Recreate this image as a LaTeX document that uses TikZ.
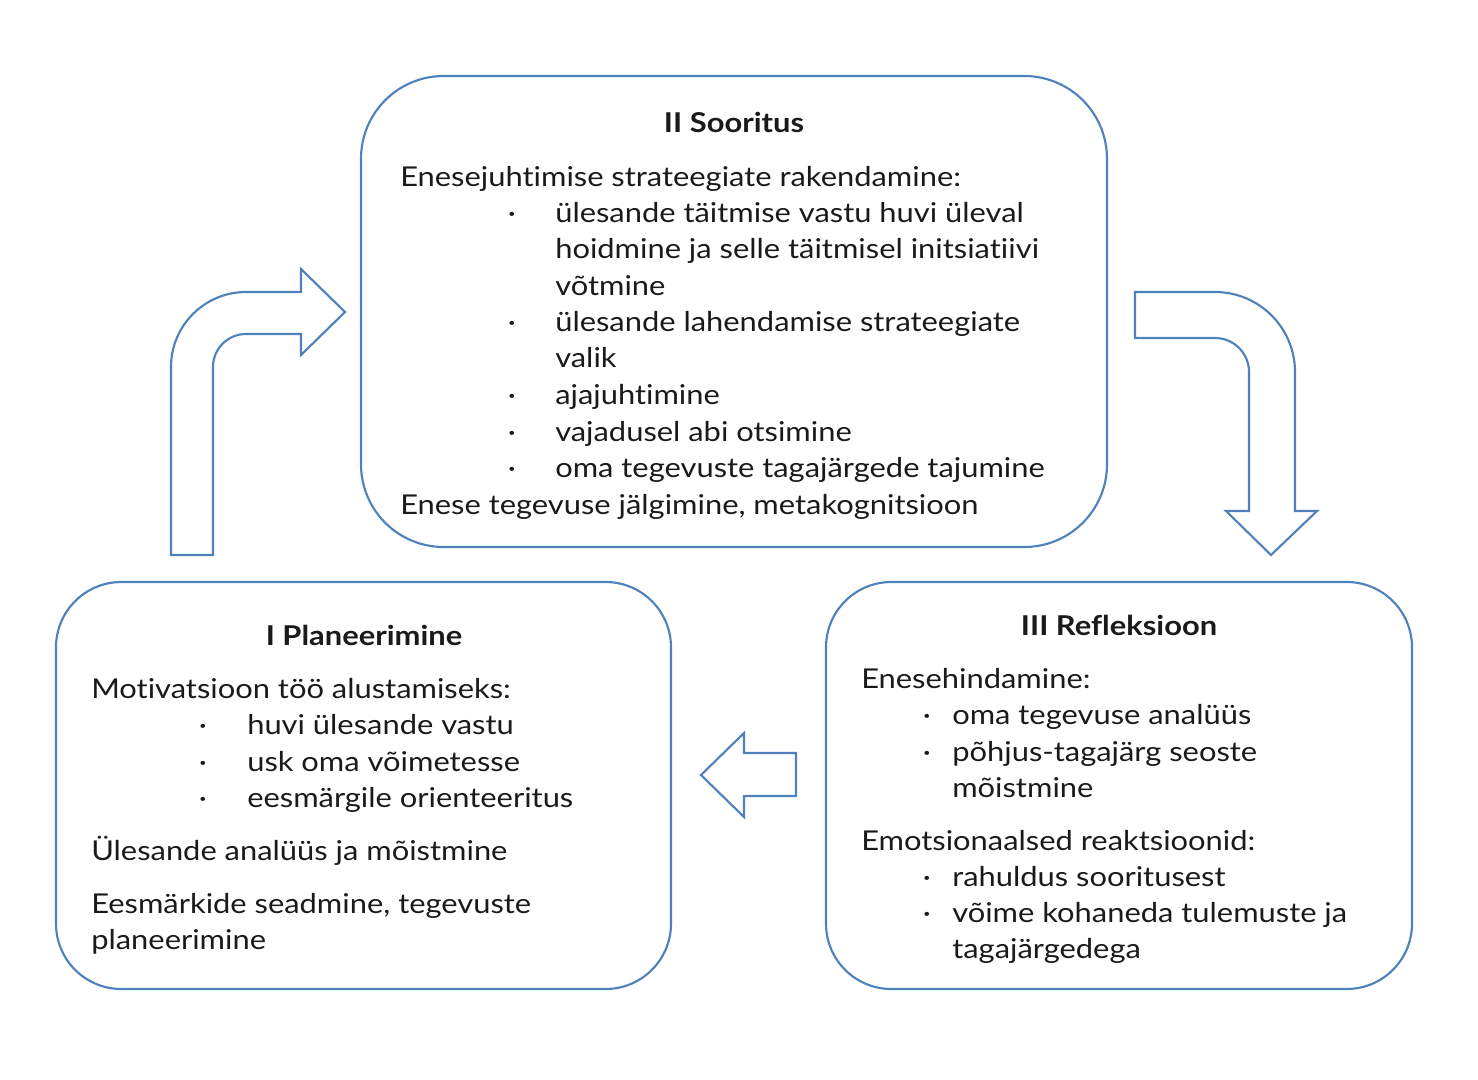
\documentclass[tikz,border=0pt]{standalone}
\usepackage{fontspec}
\setmainfont{Lato}[FakeStretch=1.13,Ligatures={NoCommon}]
\definecolor{lineblue}{HTML}{4F81BD}
\definecolor{txt}{HTML}{1A1A1A}
\begin{document}
\begin{tikzpicture}[x=0.75pt,y=-0.75pt,
  box/.style={draw=lineblue,line width=1.6pt,rounded corners=#1,inner sep=0pt},
  blockarrow/.style={draw=lineblue,line width=1.6pt,line join=miter},
  t/.style={anchor=base west,inner sep=0pt,text=txt,font=\fontsize{20.5pt}{24pt}\selectfont},
  ttl/.style={anchor=base,inner sep=0pt,text=txt,font=\fontsize{20.5pt}{24pt}\selectfont\bfseries},
  dot/.style={anchor=base,inner sep=0pt,text=txt,font=\fontsize{20.5pt}{24pt}\selectfont}]
\useasboundingbox (0,0) rectangle (1478,1080);
% boxes
\node[box=62pt,minimum width=746*0.75pt,minimum height=471*0.75pt] (top) at (734,311.5) {};
\node[box=49pt,minimum width=615*0.75pt,minimum height=407*0.75pt] (left) at (363.5,785.5) {};
\node[box=49pt,minimum width=586*0.75pt,minimum height=407*0.75pt] (right) at (1119,785.5) {};
% block arrows
\draw[blockarrow] (171,555) -- (171,367) .. controls (171,325.6) and (204.6,292) .. (246,292)
  -- (301,292) -- (301,269) -- (345,312) -- (301,355) -- (301,334) -- (246,334)
  .. controls (227.8,334) and (213,348.8) .. (213,367) -- (213,555) -- cycle;
\draw[blockarrow] (1135,292) -- (1215,292) .. controls (1259.2,292) and (1295,327.8) .. (1295,372)
  -- (1295,511) -- (1317,511) -- (1271,555) -- (1226,511) -- (1249,511) -- (1249,372)
  .. controls (1249,353.2) and (1233.8,338) .. (1215,338) -- (1135,338) -- cycle;
\draw[blockarrow] (796,753) -- (744,753) -- (744,733) -- (701,775) -- (744,817) -- (744,796) -- (796,796) -- cycle;
% top text
\node[ttl] (t0) at (734,133) {II Sooritus};
\node[t] (t1) at (400,187) {Enesejuhtimise strateegiate rakendamine:};
\node[dot] (d1) at (512,223) {·};
\node[t] (t2) at (555,223) {ülesande täitmise vastu huvi üleval};
\node[t] (t3) at (555,259) {hoidmine ja selle täitmisel initsiatiivi};
\node[t] (t4) at (555,296) {võtmine};
\node[dot] (d2) at (512,332) {·};
\node[t] (t5) at (555,332) {ülesande lahendamise strateegiate};
\node[t] (t6) at (555,368) {valik};
\node[dot] (d3) at (512,405) {·};
\node[t] (t7) at (555,405) {ajajuhtimine};
\node[dot] (d4) at (512,441) {·};
\node[t] (t8) at (555,441) {vajadusel abi otsimine};
\node[dot] (d5) at (512,477) {·};
\node[t] (t9) at (555,477) {oma tegevuste tagajärgede tajumine};
\node[t] (t10) at (400,514) {Enese tegevuse jälgimine, metakognitsioon};
% left text
\node[ttl] (l0) at (364,645) {I Planeerimine};
\node[t] (l1) at (91,698) {Motivatsioon töö alustamiseks:};
\node[dot] (ld1) at (203,734) {·};
\node[t] (l2) at (247,734) {huvi ülesande vastu};
\node[dot] (ld2) at (203,771) {·};
\node[t] (l3) at (247,771) {usk oma võimetesse};
\node[dot] (ld3) at (203,807) {·};
\node[t] (l4) at (247,807) {eesmärgile orienteeritus};
\node[t] (l5) at (91,860) {Ülesande analüüs ja mõistmine};
\node[t] (l6) at (91,913) {Eesmärkide seadmine, tegevuste};
\node[t] (l7) at (91,949) {planeerimine};
% right text
\node[ttl] (r0) at (1119,635) {III Refleksioon};
\node[t] (r1) at (861,688) {Enesehindamine:};
\node[dot] (rd1) at (927,724) {·};
\node[t] (r2) at (952,724) {oma tegevuse analüüs};
\node[dot] (rd2) at (927,761) {·};
\node[t] (r3) at (952,761) {põhjus-tagajärg seoste};
\node[t] (r4) at (952,797) {mõistmine};
\node[t] (r5) at (861,850) {Emotsionaalsed reaktsioonid:};
\node[dot] (rd3) at (927,886) {·};
\node[t] (r6) at (952,886) {rahuldus sooritusest};
\node[dot] (rd4) at (927,922) {·};
\node[t] (r7) at (952,922) {võime kohaneda tulemuste ja};
\node[t] (r8) at (952,958) {tagajärgedega};
\end{tikzpicture}
\end{document}
